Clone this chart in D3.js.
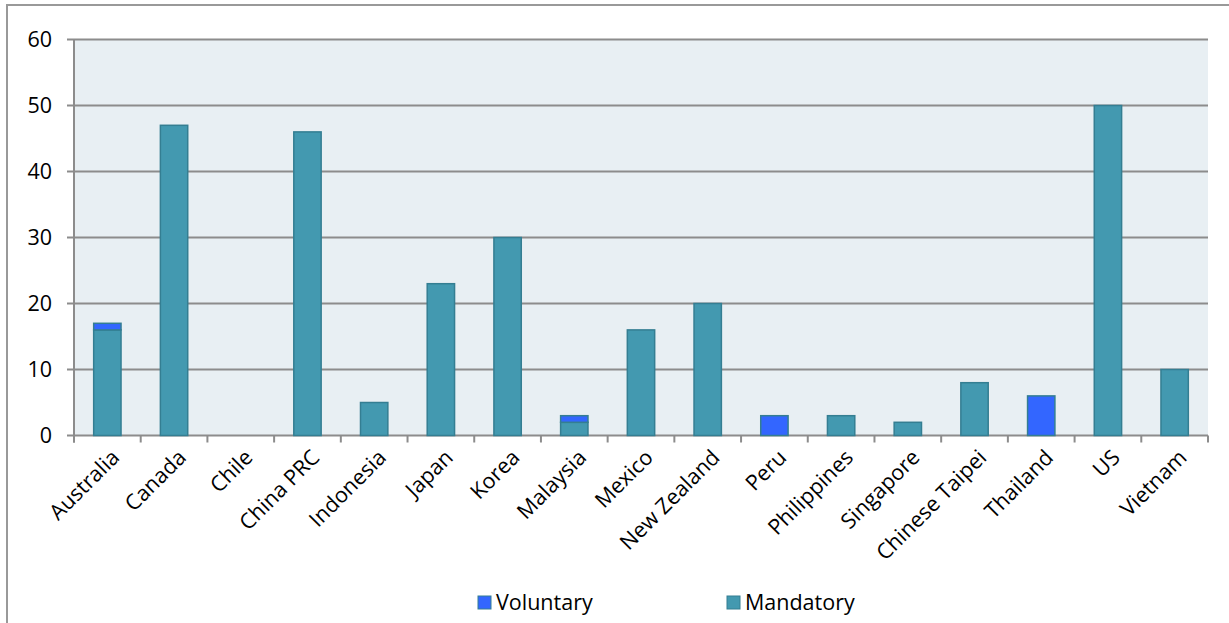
<!DOCTYPE html>
<html><head><meta charset="utf-8">
<script src="https://cdn.jsdelivr.net/npm/d3@7"></script>
<style>body{margin:0;background:#fff;}svg{display:block;font-family:"Open Sans",Lato,sans-serif;}</style>
</head><body>
<svg id="c" width="1229" height="623"></svg>
<script>
const categories = ["Australia","Canada","Chile","China PRC","Indonesia","Japan","Korea","Malaysia","Mexico","New Zealand","Peru","Philippines","Singapore","Chinese Taipei","Thailand","US","Vietnam"];
const mandatory = [16,47,0,46,5,23,30,2,16,20,0,3,2,8,0,50,10];
const voluntary = [1,0,0,0,0,0,0,1,0,0,3,0,0,0,6,0,0];
const yTicks = [0,10,20,30,40,50,60];
const seriesNames = ["Voluntary","Mandatory"];

const svg = d3.select("#c");
const L=74, R=1208, T=39.5, B=435.5;
const colM="#4399B0", colV="#3366FF", stroke="#347E92", grid="#8C8C8C";
const FS = 21.5;

// outer frame
svg.append("rect").attr("x",7).attr("y",5).attr("width",1240).attr("height",640)
  .attr("fill","none").attr("stroke","#999").attr("stroke-width",2);

const x = d3.scaleBand().domain(categories).range([L,R]).paddingInner(0.59).paddingOuter(0.295);
const y = d3.scaleLinear().domain([0,60]).range([B,T]);

svg.append("rect").attr("x",L).attr("y",T).attr("width",R-L).attr("height",B-T).attr("fill","#E8EFF3");

// gridlines
svg.append("g").selectAll("line").data(yTicks).join("line")
  .attr("x1",L-7).attr("x2",R).attr("y1",d=>y(d)).attr("y2",d=>y(d))
  .attr("stroke",grid).attr("stroke-width",2);

// left axis line
svg.append("line").attr("x1",L).attr("x2",L).attr("y1",T).attr("y2",B+7).attr("stroke",grid).attr("stroke-width",2);

// x ticks at band boundaries
const step = (R-L)/categories.length;
const bounds = d3.range(categories.length+1).map(i=>L+i*step);
svg.append("g").selectAll("line").data(bounds).join("line")
  .attr("x1",d=>d).attr("x2",d=>d).attr("y1",B).attr("y2",B+7)
  .attr("stroke",grid).attr("stroke-width",2);

// y labels
svg.append("g").selectAll("text").data(yTicks).join("text")
  .attr("x",52).attr("y",d=>y(d)).attr("dy","0.35em").attr("text-anchor","end")
  .attr("font-size",FS).attr("fill","#000").text(d=>d);

// bars
const data = categories.map((c,i)=>({c,m:mandatory[i],v:voluntary[i]}));
const g = svg.append("g");
g.selectAll("rect.m").data(data.filter(d=>d.m>0)).join("rect")
  .attr("x",d=>x(d.c)).attr("width",x.bandwidth())
  .attr("y",d=>y(d.m)).attr("height",d=>y(0)-y(d.m))
  .attr("fill",colM).attr("stroke",stroke).attr("stroke-width",1.5);
g.selectAll("rect.v").data(data.filter(d=>d.v>0)).join("rect")
  .attr("x",d=>x(d.c)).attr("width",x.bandwidth())
  .attr("y",d=>y(d.m+d.v)).attr("height",d=>y(d.m)-y(d.m+d.v))
  .attr("fill",colV).attr("stroke",stroke).attr("stroke-width",1.5);

// x labels
svg.append("g").selectAll("text").data(categories).join("text")
  .attr("transform",d=>`translate(${x(d)+x.bandwidth()/2+8},${B+18}) rotate(-45)`)
  .attr("text-anchor","end").attr("dy","0.35em")
  .attr("font-size",FS).attr("fill","#000").text(d=>d);

// legend
const leg = [{n:seriesNames[0],c:colV,x:478},{n:seriesNames[1],c:colM,x:727}];
const lg = svg.append("g").selectAll("g").data(leg).join("g");
lg.append("rect").attr("x",d=>d.x).attr("y",596).attr("width",13).attr("height",13)
  .attr("fill",d=>d.c).attr("stroke",stroke).attr("stroke-width",1);
lg.append("text").attr("x",d=>d.x+18).attr("y",602.5).attr("dy","0.35em")
  .attr("font-size",FS).attr("fill","#000").text(d=>d.n);
</script>
</body></html>
